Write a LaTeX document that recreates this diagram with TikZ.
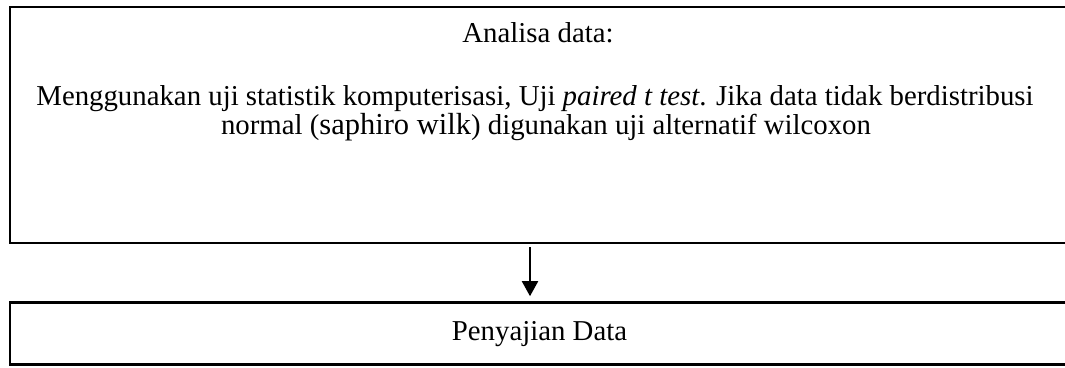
\documentclass[tikz,border=0pt]{standalone}
\usepackage{fontspec}
\setmainfont{Liberation Serif}
\usetikzlibrary{arrows.meta,calc}
\tikzset{
  frame/.style={draw=black, line width=2.6pt, inner sep=0pt},
  txt/.style={anchor=base, inner sep=0pt, font=\fontsize{28.8}{32}\selectfont},
  flow/.style={line width=2pt, -{Triangle[width=16pt,length=15pt]}, shorten <=3pt, shorten >=5pt}
}
\begin{document}
\begin{tikzpicture}[x=1pt,y=1pt]
\useasboundingbox (0,0) rectangle (1065,367);
\node[frame, minimum width=1060pt, minimum height=236pt] (top) at (540,242) {};
\node[frame, minimum width=1060pt, minimum height=62pt] (bot) at (540,33.5) {};
\node[txt] (t1) at (538,324) {Analisa data:};
\node[txt] (t2) at (535,261) {Menggunakan uji statistik komputerisasi, Uji \textit{paired t test}. Jika data tidak berdistribusi};
\node[txt] (t3) at (546,232) {normal ({\fontsize{30.5}{32}\selectfont saphiro wilk}) digunakan uji alternatif wilcoxon};
\node[txt] (b1) at (539.5,27) {Penyajian Data};
\draw[flow] ($(top.south)+(-10,0)$) -- ($(bot.north)+(-10,0)$);
\end{tikzpicture}
\end{document}
